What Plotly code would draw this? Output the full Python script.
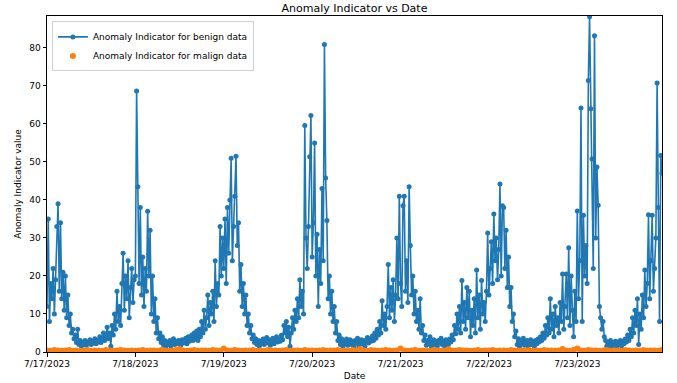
import pandas as pd
import plotly.graph_objects as go

# ---------------- data (20-minute samples, one list per day) ----------------
benign_day1 = [12, 35, 8, 18, 14, 22, 10, 19, 33, 39, 16, 34, 14, 21, 11, 20, 9, 15, 7, 10, 5, 6, 3.5, 4.5,
               2.5, 6, 2, 3, 1.5, 2.5, 2, 3, 1.8, 2.6, 2.2, 3.2, 2, 2.8, 2.4, 3.5, 2.2, 3, 2.6, 4,
               2.5, 3.4, 5, 3, 4.2, 6.5, 3.5, 5, 1.5, 7, 4.5, 10, 6, 16, 8, 12, 7, 18, 26, 11,
               20, 14, 24, 9, 17, 22, 13, 19]
benign_day2 = [20, 68.7, 43.5, 18, 38, 15, 25, 12, 22, 16, 37, 20, 32, 10, 20, 8, 14, 5, 9, 3.5, 5, 2.5, 4, 1.8,
               3, 1.5, 2.5, 2, 3, 1.6, 2.4, 3.5, 2, 2.8, 2.2, 3, 2.5, 1.8, 3.2, 2.4, 2.8, 3.6, 2.2, 4,
               2.8, 3.4, 4.5, 3, 5, 3.5, 5.5, 3, 6, 4, 8, 5, 11, 6, 9, 15, 7, 13, 10, 16,
               8, 24, 12, 18, 15, 33, 20, 30]
benign_day3 = [22, 35, 18, 38, 26, 40, 51, 24, 33, 41, 51.5, 28, 34, 16, 23, 12, 18, 10, 15, 7, 10, 5, 7, 3.5,
               4.5, 2.5, 3.5, 2, 3, 1.6, 2.8, 2.2, 3.4, 2, 2.6, 3.8, 2.4, 3.2, 1.8, 2.8, 3.6, 2.2, 3, 4,
               2.6, 3.4, 2.8, 4.4, 3.2, 7, 5, 8, 4, 6.5, 1.5, 5, 9, 6, 11, 8, 14, 9, 19, 12,
               16, 10, 59.6, 30, 22, 33, 51.4, 62.2]
benign_day4 = [25, 34, 55, 20, 31, 12, 27, 18, 43, 24, 80.9, 45.8, 34.6, 14, 20, 10, 16, 8, 12, 5, 8, 3, 4.5, 2,
               3.5, 1.5, 2.8, 2.2, 3.4, 1.8, 2.6, 3.2, 2, 2.8, 1.4, 3, 2.4, 3.6, 1.6, 2.6, 3.2, 2.2, 3, 1.5,
               2.8, 3.8, 2.4, 3.4, 2.8, 4.2, 3, 5, 3.6, 6, 4.5, 8, 5, 13.5, 7, 10, 6, 12, 23, 9,
               17, 11, 19, 8, 15, 30, 14, 41]
benign_day5 = [18, 12, 38.5, 41, 16, 24, 13, 43.5, 28, 15, 20, 10, 16, 8, 11, 6, 14, 5, 7, 3, 4.5, 1.8, 3, 2.2,
               4, 1.5, 2.6, 3.2, 2, 2.8, 1.6, 3, 2.4, 3.6, 2, 2.8, 1.4, 3.2, 2.4, 2, 3.4, 2.6, 4.5, 3.2,
               7, 4.8, 10, 6, 12, 5, 18.8, 8, 13, 6, 17, 9, 16, 4, 11, 7, 14, 5, 21.6, 9,
               15, 6, 18.8, 10, 13, 8, 16, 31.3]
benign_day6 = [15, 22, 29, 18, 36.3, 24, 30, 19, 27, 44.2, 20, 38.5, 38, 22, 32, 17, 25, 12, 17, 8, 10, 4, 5.5, 2,
               3.5, 1.4, 2.8, 2.2, 3.6, 1.8, 2.6, 3, 1.6, 2.4, 3.2, 2, 2.8, 1.5, 3, 2.2, 3.4, 2.6, 4, 3,
               5, 3.6, 7, 4.5, 9, 5, 14, 6, 10, 4, 12, 7, 9, 5, 13, 8, 20.5, 6, 12, 20.5,
               9, 27.4, 7, 20, 11, 4, 16, 8]
benign_day7 = [37.1, 14, 24, 64.2, 8, 36, 20, 28, 18, 71.4, 88.2, 64, 50.8, 22, 83.2, 30, 48.7, 38.6, 12, 9, 6, 8, 4, 3,
               1.5, 2.5, 1.8, 3, 1.2, 2.4, 2, 2.8, 1.4, 2.6, 2.2, 3, 1.6, 2.8, 2.2, 3.4, 2.6, 4.5, 3, 6,
               4, 9, 5, 11, 7, 14, 2, 10, 6, 15, 9, 21.6, 12, 18, 36.1, 14, 24, 36, 16, 22,
               30, 70.8, 38, 8, 51.7, 47]

malign_day1 = [0.4, 0.3, 0.5, 0.4, 0.3, 0.4, 0.5, 0.3, 0.4, 0.3, 0.4, 0.5, 0.3, 0.4, 0.4, 0.3, 0.5, 0.4, 0.3, 0.4, 0.5, 0.4, 0.3, 0.4]
malign_day2 = [0.3, 0.4, 0.5, 0.3, 0.4, 0.4, 0.3, 0.5, 0.4, 0.3, 0.4, 0.5, 0.8, 0.4, 0.3, 0.4, 0.5, 0.3, 0.4, 0.4, 0.3, 0.5, 0.4, 0.3]
malign_day3 = [0.9, 0.4, 0.3, 0.5, 0.4, 0.3, 0.4, 0.4, 0.5, 0.3, 0.4, 0.3, 0.5, 0.4, 0.4, 0.3, 0.4, 0.5, 0.3, 0.4, 0.4, 0.3, 0.5, 0.4]
malign_day4 = [0.4, 0.3, 0.4, 0.5, 0.3, 0.4, 0.4, 0.5, 0.3, 0.4, 0.3, 0.5, 0.4, 0.8, 0.4, 0.3, 0.5, 0.4, 0.3, 0.4, 0.5, 0.4, 0.3, 0.4]
malign_day5 = [0.9, 0.4, 0.3, 0.4, 0.5, 0.3, 0.4, 0.4, 0.3, 0.5, 0.4, 0.3, 0.4, 0.7, 0.4, 0.3, 0.5, 0.4, 0.4, 0.3, 0.4, 0.5, 0.3, 0.4]
malign_day6 = [0.4, 0.5, 0.3, 0.4, 0.4, 0.3, 0.5, 0.4, 0.3, 0.4, 0.4, 0.5, 0.3, 0.4, 0.3, 0.5, 0.4, 0.4, 0.3, 0.4, 0.8, 0.4, 0.3, 0.5]
malign_day7 = [0.9, 0.4, 0.3, 0.5, 0.4, 0.4, 0.3, 0.4, 0.5, 0.3, 0.4, 0.4, 0.3, 0.5, 0.4, 0.3, 0.4, 0.4, 0.5, 0.3, 0.4, 0.4, 0.3, 0.5]

tick_dates = ["2023-07-17", "2023-07-18", "2023-07-19", "2023-07-20", "2023-07-21", "2023-07-22", "2023-07-23"]
tick_labels = ["7/17/2023", "7/18/2023", "7/19/2023", "7/20/2023", "7/21/2023", "7/22/2023", "7/23/2023"]
y_ticks = [0, 10, 20, 30, 40, 50, 60, 70, 80]

# ---------------- build ----------------
benign = benign_day1 + benign_day2 + benign_day3 + benign_day4 + benign_day5 + benign_day6 + benign_day7
malign = malign_day1 + malign_day2 + malign_day3 + malign_day4 + malign_day5 + malign_day6 + malign_day7
t_benign = pd.date_range("2023-07-17 00:00", periods=len(benign), freq="20min")
t_malign = pd.date_range("2023-07-17 00:00", periods=len(malign), freq="h")

FONT = "DejaVu Sans"
BLUE = "#1f77b4"
ORANGE = "#ff7f0e"

fig = go.Figure()
fig.add_trace(go.Scatter(
    x=t_benign, y=benign, mode="lines+markers",
    name="Anomaly Indicator for benign data",
    line=dict(color=BLUE, width=1.6),
    marker=dict(color=BLUE, size=5),
))
fig.add_trace(go.Scatter(
    x=t_malign, y=malign, mode="markers",
    name="Anomaly Indicator for malign data",
    marker=dict(color=ORANGE, size=6),
))

x_end = max(t_benign[-1], t_malign[-1])
fig.update_layout(
    width=677, height=383,
    margin=dict(l=47, r=15, t=16, b=31, autoexpand=False),
    paper_bgcolor="white", plot_bgcolor="white",
    font=dict(family=FONT, size=9, color="black"),
    hovermode=False,
    title=dict(text="Anomaly Indicator vs Date", x=0.5, xref="paper", xanchor="center",
               y=0.979, yref="container", yanchor="middle", automargin=False,
               font=dict(family=FONT, size=11, color="black")),
    showlegend=True,
    legend=dict(x=0.008, y=0.984, xanchor="left", yanchor="top",
                bgcolor="rgba(255,255,255,0.85)", bordercolor="#d0d0d0", borderwidth=1,
                font=dict(family=FONT, size=9), itemwidth=30, tracegroupgap=0),
)
fig.update_xaxes(
    range=[t_benign[0], x_end], automargin=False,
    tickvals=tick_dates, ticktext=tick_labels,
    showgrid=False, zeroline=False,
    showline=True, linecolor="black", linewidth=1, mirror=True,
    ticks="outside", ticklen=3.5, tickcolor="black", tickwidth=1,
    tickfont=dict(family=FONT, size=9, color="black"),
    title=dict(text="Date", standoff=4, font=dict(family=FONT, size=9, color="black")),
)
fig.update_yaxes(
    range=[0, 88.4], automargin=False,
    tickvals=y_ticks,
    showgrid=False, zeroline=False,
    showline=True, linecolor="black", linewidth=1, mirror=True,
    ticks="outside", ticklen=3.5, tickcolor="black", tickwidth=1,
    tickfont=dict(family=FONT, size=9, color="black"),
    title=dict(text="Anomaly Indicator value", standoff=6, font=dict(family=FONT, size=9, color="black")),
)

fig.write_html("out.html", config={"displayModeBar": False},
               post_script="document.body.style.margin='0';")
